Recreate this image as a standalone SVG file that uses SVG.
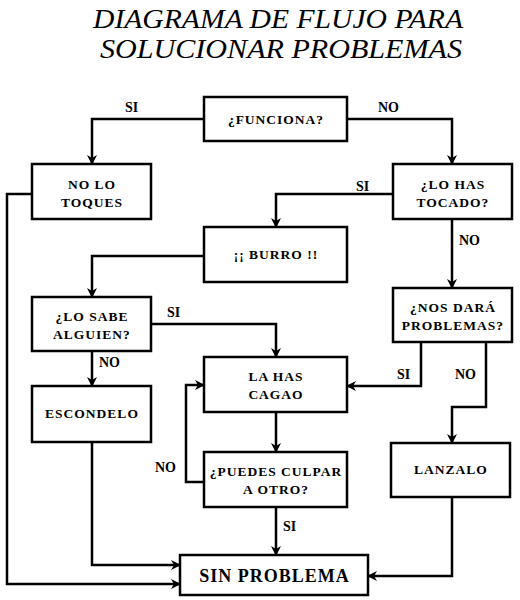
<svg xmlns="http://www.w3.org/2000/svg" width="520" height="600" viewBox="0 0 520 600">
<style>
.box{fill:#fff;stroke:#000;stroke-width:2.5}
.t{font-family:"Liberation Serif","DejaVu Serif",serif;font-weight:bold;font-size:13.5px;letter-spacing:1px;text-anchor:middle;fill:#000}
.big{font-size:18px;letter-spacing:1px}
.lbl{font-family:"Liberation Serif","DejaVu Serif",serif;font-weight:bold;font-size:14px;fill:#000}
.title{font-family:"Liberation Serif","DejaVu Serif",serif;font-style:italic;font-size:27px;text-anchor:middle;fill:#000}
.c{fill:none;stroke:#000;stroke-width:2.5;marker-end:url(#ah)}
</style>
<defs>
<marker id="ah" markerWidth="10" markerHeight="10" refX="9" refY="5" orient="auto" markerUnits="userSpaceOnUse">
<path d="M0,0 L10,5 L0,10 L3,5 Z" fill="#000"/>
</marker>
</defs>
<rect width="520" height="600" fill="#fff"/>
<g id="title">
<text class="title" x="278" y="28" textLength="370" lengthAdjust="spacingAndGlyphs">DIAGRAMA DE FLUJO PARA</text>
<text class="title" x="281" y="58" textLength="362" lengthAdjust="spacingAndGlyphs">SOLUCIONAR PROBLEMAS</text>
</g>
<g id="connectors">
<path class="c" d="M204,119 H92 V164"/>
<path class="c" d="M347,119 H452 V164"/>
<path class="c" d="M393,194 H276 V227"/>
<path class="c" d="M452,219 V288"/>
<path class="c" d="M204,256 H92 V297"/>
<path class="c" d="M32,194 H7 V584 H180"/>
<path class="c" d="M151,324 H276 V357"/>
<path class="c" d="M92,351 V386"/>
<path class="c" d="M92,442 V565 H180"/>
<path class="c" d="M276,412 V452"/>
<path class="c" d="M204,482 H186 V385 H204"/>
<path class="c" d="M276,507 V555"/>
<path class="c" d="M421,342 V386 H347"/>
<path class="c" d="M486,342 V407 H452 V443"/>
<path class="c" d="M452,497 V576 H368"/>
<text class="lbl" x="125" y="112">SI</text>
<text class="lbl" x="378" y="112">NO</text>
<text class="lbl" x="356" y="191">SI</text>
<text class="lbl" x="459" y="245">NO</text>
<text class="lbl" x="167" y="317">SI</text>
<text class="lbl" x="99" y="367">NO</text>
<text class="lbl" x="155" y="472">NO</text>
<text class="lbl" x="283" y="531">SI</text>
<text class="lbl" x="397" y="379">SI</text>
<text class="lbl" x="455" y="379">NO</text>
</g>
<g id="funciona"><rect class="box" x="204" y="97" width="143" height="44"/><text class="t" x="276" y="124">¿FUNCIONA?</text></g>
<g id="no-lo-toques"><rect class="box" x="32" y="164" width="119" height="55"/><text class="t" x="92" y="189">NO LO</text><text class="t" x="92" y="207">TOQUES</text></g>
<g id="lo-has-tocado"><rect class="box" x="393" y="164" width="119" height="55"/><text class="t" x="453" y="189">¿LO HAS</text><text class="t" x="453" y="207">TOCADO?</text></g>
<g id="burro"><rect class="box" x="204" y="227" width="143" height="55"/><text class="t" x="276" y="259">¡¡ BURRO !!</text></g>
<g id="lo-sabe"><rect class="box" x="32" y="297" width="119" height="54"/><text class="t" x="92" y="321">¿LO SABE</text><text class="t" x="92" y="339">ALGUIEN?</text></g>
<g id="nos-dara"><rect class="box" x="393" y="288" width="119" height="54"/><text class="t" x="453" y="312">¿NOS DARÁ</text><text class="t" x="453" y="330">PROBLEMAS?</text></g>
<g id="la-has-cagao"><rect class="box" x="204" y="357" width="143" height="55"/><text class="t" x="276" y="381">LA HAS</text><text class="t" x="276" y="399">CAGAO</text></g>
<g id="escondelo"><rect class="box" x="32" y="386" width="119" height="56"/><text class="t" x="92" y="418">ESCONDELO</text></g>
<g id="puedes-culpar"><rect class="box" x="204" y="452" width="143" height="55"/><text class="t" x="276" y="476">¿PUEDES CULPAR</text><text class="t" x="276" y="494">A OTRO?</text></g>
<g id="lanzalo"><rect class="box" x="391" y="443" width="119" height="54"/><text class="t" x="451" y="474">LANZALO</text></g>
<g id="sin-problema"><rect class="box" x="180" y="555" width="188" height="40"/><text class="t big" x="274.5" y="582">SIN PROBLEMA</text></g>
</svg>
